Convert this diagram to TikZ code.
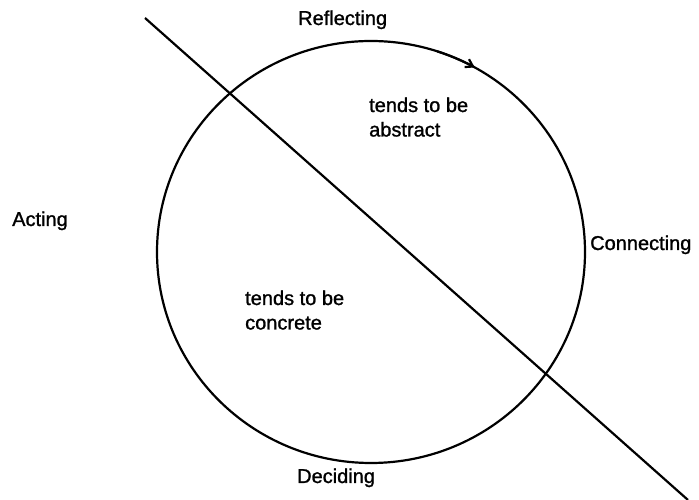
\documentclass[tikz,border=0pt]{standalone}
\usepackage{fontspec}
\setmainfont[FakeBold=1.2]{Liberation Sans}
\usetikzlibrary{arrows.meta}
\begin{document}
\begin{tikzpicture}[x=1pt,y=1pt,
  lbl/.style={inner sep=0pt, anchor=base west, font=\fontsize{20}{24}\selectfont},
  stroke/.style={line width=2.2pt, black}]
\useasboundingbox (0,0) rectangle (699,500);
% circle
\coordinate (c) at (371,248);
\draw[stroke] (c) ellipse[x radius=214, y radius=211];
% arrow on the circle
\draw[stroke, -{Straight Barb[length=7pt,width=9pt]}] (c) ++(72:214 and 211) arc[start angle=72, end angle=61, x radius=214, y radius=211];
% diagonal line
\coordinate (s) at (145,482);
\coordinate (e) at (688,0);
\draw[stroke] (s) -- (e);
% labels
\node[lbl] (refl) at (298,475) {Reflecting};
\node[lbl] (act) at (12,274) {Acting};
\node[lbl] (conn) at (590,250) {Connecting};
\node[lbl] (dec) at (297,17) {Deciding};
\node[lbl] (ab1) at (369,388) {tends to be};
\node[lbl] (ab2) at (369,363.5) {abstract};
\node[lbl] (co1) at (245,195) {tends to be};
\node[lbl] (co2) at (245,170.5) {concrete};
\end{tikzpicture}
\end{document}
